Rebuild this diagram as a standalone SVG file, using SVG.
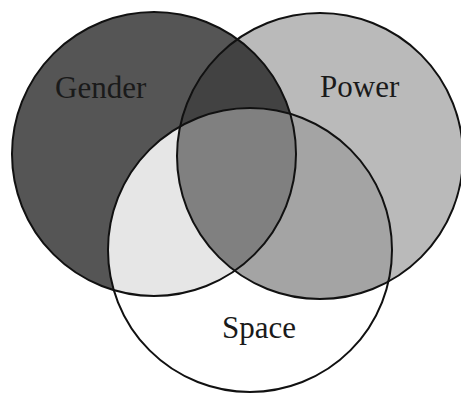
<svg xmlns="http://www.w3.org/2000/svg" width="461" height="394" viewBox="0 0 461 394">
  <style>
    .outline { fill: none; stroke: #111; stroke-width: 2; }
    .label { font-family: "Liberation Serif", "Times New Roman", serif; font-size: 31px; fill: #1a1a1a; }
  </style>
  <defs>
    <clipPath id="clipG"><circle cx="154" cy="154" r="142"/></clipPath>
    <clipPath id="clipP"><circle cx="320" cy="156" r="143"/></clipPath>
    <clipPath id="clipS"><circle cx="250" cy="250" r="142"/></clipPath>
  </defs>
  <rect width="461" height="394" fill="#ffffff"/>
  <g id="regions">
    <circle cx="154" cy="154" r="142" fill="#555555"/>
    <circle cx="320" cy="156" r="143" fill="#bababa"/>
    <circle cx="320" cy="156" r="143" fill="#424242" clip-path="url(#clipG)"/>
    <circle cx="250" cy="250" r="142" fill="#ffffff"/>
    <circle cx="154" cy="154" r="142" fill="#e6e6e6" clip-path="url(#clipS)"/>
    <circle cx="320" cy="156" r="143" fill="#a4a4a4" clip-path="url(#clipS)"/>
    <g clip-path="url(#clipS)">
      <circle cx="320" cy="156" r="143" fill="#808080" clip-path="url(#clipG)"/>
    </g>
  </g>
  <g id="gender">
    <circle class="outline" cx="154" cy="154" r="142"/>
    <text class="label" x="55" y="98">Gender</text>
  </g>
  <g id="power">
    <circle class="outline" cx="320" cy="156" r="143"/>
    <text class="label" x="320" y="97">Power</text>
  </g>
  <g id="space">
    <circle class="outline" cx="250" cy="250" r="142"/>
    <text class="label" x="222" y="338">Space</text>
  </g>
</svg>
